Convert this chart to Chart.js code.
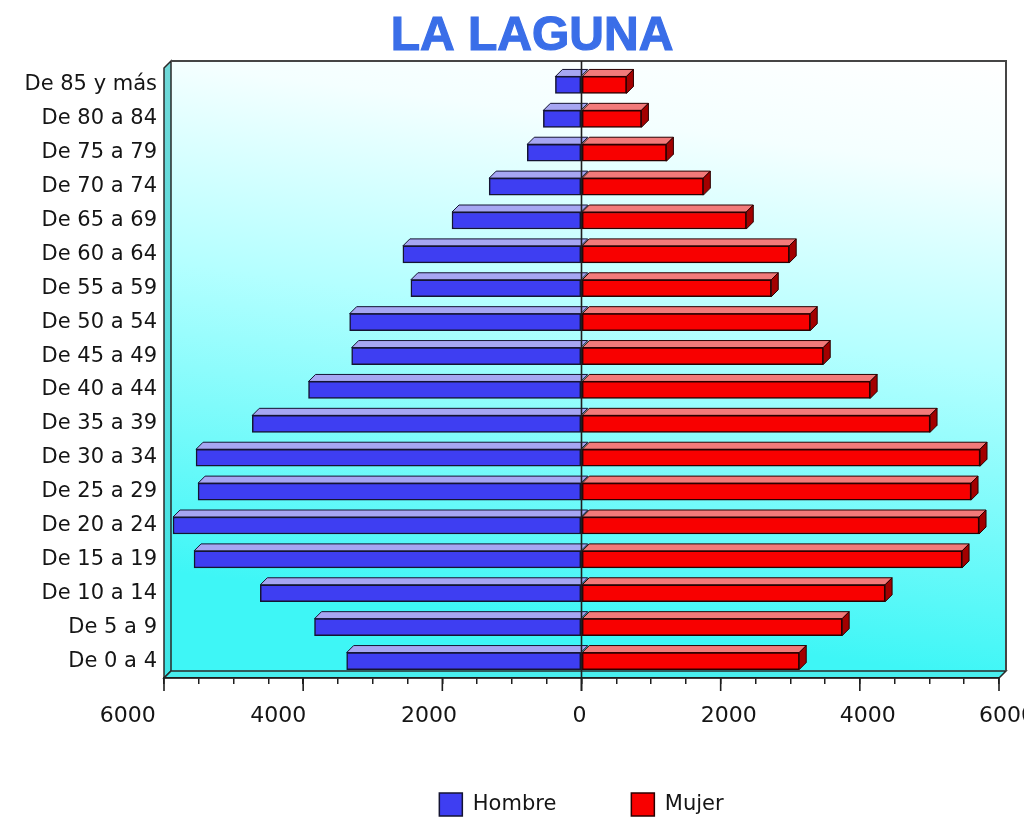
<!DOCTYPE html>
<html><head><meta charset="utf-8">
<script src="https://cdn.jsdelivr.net/npm/chart.js@4.4.0/dist/chart.umd.min.js"></script>
<style>html,body{margin:0;padding:0;background:#fff;}#wrap{width:1024px;height:818px;}</style>
</head><body><div id="wrap"><canvas id="c" width="1024" height="818"></canvas></div>
<script>
// ---- data ----
const categories = ["De 85 y más","De 80 a 84","De 75 a 79","De 70 a 74","De 65 a 69","De 60 a 64",
  "De 55 a 59","De 50 a 54","De 45 a 49","De 40 a 44","De 35 a 39","De 30 a 34","De 25 a 29",
  "De 20 a 24","De 15 a 19","De 10 a 14","De 5 a 9","De 0 a 4"];
const hombre = [375, 548, 779, 1327, 1861, 2567, 2452, 3332, 3303, 3923, 4731, 5539, 5510, 5870, 5568, 4616, 3837, 3375];
const mujer  = [646, 861, 1220, 1751, 2368, 2985, 2727, 3287, 3474, 4148, 5009, 5727, 5598, 5713, 5469, 4363, 3746, 3129];
const seriesNames = ["Hombre", "Mujer"];
const xLimit = 6000;
const xMajorStep = 2000;
const xMinorStep = 500;
const titleText = "LA LAGUNA";

// ---- styles ----
const D = 7; // 3D depth
const faces = [
  {front:'#3e3ef2', top:'#a6a6f2', side:'#22229a', border:'#141432'},
  {front:'#f80000', top:'#f27a7a', side:'#a30000', border:'#2a0000'}
];
const TICK_FONT = '22px "DejaVu Sans"';
const TITLE_FONT = 'bold 48px "Liberation Sans"';
const TITLE_COLOR = '#3a6ee8';

const frame3d = {
  id:'frame3d',
  beforeDraw(chart){
    const {ctx, chartArea:a} = chart;
    ctx.save();
    ctx.fillStyle='#fff'; ctx.fillRect(0,0,chart.width,chart.height);
    const bx0=a.left+D, by0=a.top-D, bx1=a.right+D, by1=a.bottom-D;
    const g = ctx.createLinearGradient(bx1, by0, bx1-80, by1);
    g.addColorStop(0,'#ffffff'); g.addColorStop(0.18,'#f4ffff');
    g.addColorStop(0.5,'#b4ffff'); g.addColorStop(1,'#3ef6f6');
    ctx.fillStyle=g; ctx.fillRect(bx0,by0,bx1-bx0,by1-by0);
    // left wall
    ctx.beginPath(); ctx.moveTo(a.left,a.top); ctx.lineTo(bx0,by0); ctx.lineTo(bx0,by1); ctx.lineTo(a.left,a.bottom); ctx.closePath();
    const gw = ctx.createLinearGradient(0,a.top,0,a.bottom);
    gw.addColorStop(0,'#6fd8d8'); gw.addColorStop(1,'#3ee6e6');
    ctx.fillStyle=gw; ctx.fill();
    ctx.strokeStyle='#2a2a2a'; ctx.lineWidth=1.5; ctx.stroke();
    // floor
    ctx.beginPath(); ctx.moveTo(a.left,a.bottom); ctx.lineTo(bx0,by1); ctx.lineTo(bx1,by1); ctx.lineTo(a.right,a.bottom); ctx.closePath();
    ctx.fillStyle='#48eeee'; ctx.fill(); ctx.stroke();
    // back plane border
    ctx.strokeStyle='#454545'; ctx.lineWidth=2;
    ctx.beginPath(); ctx.moveTo(bx0,by0); ctx.lineTo(bx1,by0); ctx.lineTo(bx1,by1); ctx.stroke();
    // title
    ctx.font = TITLE_FONT; ctx.fillStyle = TITLE_COLOR; ctx.strokeStyle = TITLE_COLOR;
    ctx.lineWidth = 1.2; ctx.textAlign='center'; ctx.textBaseline='alphabetic';
    ctx.fillText(titleText, 532, 50); ctx.strokeText(titleText, 532, 50);
    ctx.restore();
  },
  beforeDatasetsDraw(chart){
    const {ctx} = chart;
    ctx.save();
    ctx.lineWidth=1; ctx.lineJoin='round';
    chart.data.datasets.forEach((ds,i)=>{
      const meta = chart.getDatasetMeta(i);
      const f = faces[i];
      meta.data.forEach(bar=>{
        const p = bar.getProps(['x','y','base','height'], true);
        const top = p.y - p.height/2, bot = p.y + p.height/2;
        const x1 = Math.min(p.x,p.base), x2 = Math.max(p.x,p.base);
        ctx.strokeStyle=f.border;
        ctx.beginPath(); ctx.moveTo(x1,top); ctx.lineTo(x1+D,top-D); ctx.lineTo(x2+D,top-D); ctx.lineTo(x2,top); ctx.closePath();
        ctx.fillStyle=f.top; ctx.fill(); ctx.stroke();
        if (p.x > p.base) {
          ctx.beginPath(); ctx.moveTo(x2,top); ctx.lineTo(x2+D,top-D); ctx.lineTo(x2+D,bot-D); ctx.lineTo(x2,bot); ctx.closePath();
          ctx.fillStyle=f.side; ctx.fill(); ctx.stroke();
        }
      });
    });
    ctx.restore();
  },
  afterDatasetsDraw(chart){
    const {ctx, chartArea:a} = chart;
    const xs = chart.scales.x;
    ctx.save();
    ctx.strokeStyle='#1e1e1e'; ctx.lineWidth=1.6;
    const x0 = xs.getPixelForValue(0);
    ctx.beginPath(); ctx.moveTo(x0,a.top-D); ctx.lineTo(x0,a.bottom+13); ctx.stroke();
    // major ticks and labels
    ctx.font = TICK_FONT; ctx.fillStyle='#151515'; ctx.textAlign='center'; ctx.textBaseline='alphabetic';
    xs.ticks.forEach(t=>{
      const v = t.value;
      if (v % xMajorStep !== 0) return;
      const px = xs.getPixelForValue(v);
      ctx.beginPath(); ctx.moveTo(px,a.bottom); ctx.lineTo(px,a.bottom+13); ctx.stroke();
      const shift = v < 0 ? v*0.0057 - 2 : (v > 0 ? 8 : -2);
      ctx.fillText(String(Math.abs(v)), px+shift, a.bottom+44);
    });
    ctx.restore();
  }
};

new Chart(document.getElementById('c'), {
  type:'bar',
  data:{
    labels: categories,
    datasets:[
      {label:seriesNames[0], data:hombre.map(v=>-v), backgroundColor:faces[0].front, borderColor:faces[0].border, borderWidth:1.5, borderSkipped:false, barThickness:17},
      {label:seriesNames[1], data:mujer, backgroundColor:faces[1].front, borderColor:faces[1].border, borderWidth:1.5, borderSkipped:false, barThickness:17}
    ]
  },
  options:{
    indexAxis:'y',
    responsive:false,
    devicePixelRatio:1,
    animation:false,
    layout:{padding:{left:0,right:25,top:68,bottom:-8}},
    scales:{
      x:{
        stacked:true, min:-xLimit, max:xLimit,
        ticks:{display:false, stepSize:xMinorStep},
        grid:{display:true, drawOnChartArea:false, drawTicks:true, tickLength:6, color:'#1e1e1e', lineWidth:1.5},
        border:{display:true, color:'#1e1e1e', width:1.5},
        afterFit(s){ s.height = 40; }
      },
      y:{
        stacked:true,
        ticks:{font:{family:'DejaVu Sans', size:21}, color:'#151515', padding:7},
        grid:{display:false, drawTicks:false},
        border:{display:false},
        afterFit(s){ s.width = 164; }
      }
    },
    plugins:{
      title:{display:false},
      legend:{position:'bottom', fullSize:false,
        labels:{font:{family:'DejaVu Sans', size:21}, color:'#151515', boxWidth:23, boxHeight:23, padding:75}},
      tooltip:{enabled:false}
    }
  },
  plugins:[frame3d]
});
</script></body></html>
